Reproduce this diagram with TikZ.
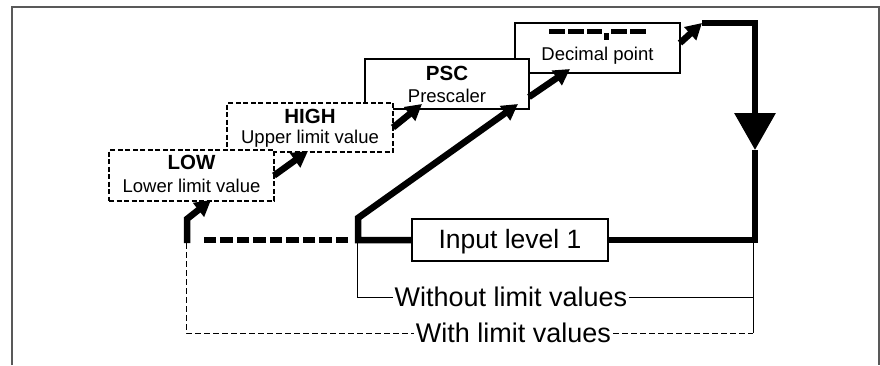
\documentclass[tikz,border=0pt]{standalone}
\usepackage{fontspec}
\setmainfont{Liberation Sans}
\usetikzlibrary{arrows.meta}
\begin{document}
\begin{tikzpicture}[x=1pt,y=-1pt,
  box/.style={draw, line width=1.1pt, fill=white, inner sep=0pt, outer sep=0pt},
  dbox/.style={box, dash pattern=on 5pt off 2.5pt},
  flow/.style={line width=6.5pt, line join=miter},
  flowarr/.style={flow, -{Triangle[length=16pt,width=17pt]}},
  ttl/.style={font=\fontsize{20.5}{22}\selectfont\bfseries, anchor=base, inner sep=0pt},
  lbl/.style={font=\fontsize{18.5}{20}\selectfont, anchor=base, inner sep=0pt},
  big/.style={font=\fontsize{27}{30}\selectfont, inner sep=2pt},
  thinline/.style={line width=1pt},
  thindash/.style={line width=1pt, dash pattern=on 6pt off 3pt},
]
\useasboundingbox (0,0) rectangle (880,365);
% frame
\draw[line width=2pt, color=black!65] (12,365) -- (12,7) -- (879,7) -- (879,365);

% boxes (back to front)
\node[box, minimum width=165pt, minimum height=50pt] (dec) at (597.5,48) {};
\node[box, minimum width=164pt, minimum height=50pt] (psc) at (447,84) {};
\node[dbox, minimum width=166pt, minimum height=49pt] (high) at (310,127.5) {};
\node[dbox, minimum width=165pt, minimum height=51pt] (low) at (191.5,175.5) {};
\node[box, minimum width=196pt, minimum height=42pt] (inp) at (510,240) {};

% texts
\fill (549,29) rectangle (565,33.5);
\fill (568,29) rectangle (584,33.5);
\fill (587,29) rectangle (602,33.5);
\fill (603.5,33) rectangle (609,40);
\fill (611,29) rectangle (627,33.5);
\fill (630,29) rectangle (646,33.5);
\node[lbl] (dect) at (597.5,60) {Decimal point};
\node[ttl] (psct) at (447,80) {PSC};
\node[lbl] (pscl) at (447,102) {Prescaler};
\node[ttl] (hight) at (310,123) {HIGH};
\node[lbl] (highl) at (310,143) {Upper limit value};
\node[ttl] (lowt) at (191.5,169) {LOW};
\node[lbl] (lowl) at (191.5,192) {Lower limit value};
\node[anchor=base, inner sep=0pt, font=\fontsize{26.5}{28}\selectfont] (inpt) at (510,248) {Input level 1};

% coordinates
\coordinate (tl) at (702,23);
\coordinate (tr) at (755,23);
\coordinate (mid) at (755,150);
\coordinate (br) at (755,240);
\coordinate (bl) at (358,240);
\coordinate (blu) at (358,218);
\coordinate (pscin) at (518,104);
\coordinate (dstart) at (348,240);
\coordinate (dend) at (200,240);
\coordinate (lowb) at (187,243);
\coordinate (lowk) at (187,219);
\coordinate (lowin) at (211,200);
\coordinate (highin) at (308,151);
\coordinate (pscin2) at (422,104);
\coordinate (pscout) at (529,97);
\coordinate (decin) at (570,69);
\coordinate (decout) at (680,43);

% thick flow
\draw[flowarr] (decout) -- (tl);
\draw[flow, -{Triangle[length=37pt,width=40pt]}] (tl) -- (tr) -- (mid);
\draw[flow] (mid) -- (br) -- (inp.east);
\draw[flowarr] (inp.west) -- (bl) -- (blu) -- (pscin);
\draw[flow, dash pattern=on 12.5pt off 4pt] (dstart) -- (dend);
\draw[flowarr] (lowb) -- (lowk) -- (lowin);
\draw[flowarr] (low.east) -- (highin);
\draw[flowarr] (high.east) -- (pscin2);
\draw[flowarr] (pscout) -- (decin);

% range lines
\node[big] (wo) at (511,297) {Without limit values};
\node[big] (wi) at (513.5,333) {With limit values};
\coordinate (wol) at (357,241);
\coordinate (wor) at (753,297);
\coordinate (rtop) at (753,243);
\coordinate (rbot) at (753,333);
\coordinate (wil) at (186,243);
\draw[thinline] (wol) |- (wo.west);
\draw[thinline] (wo.east) -- (wor);
\draw[thinline] (rtop) -- (rbot);
\draw[thindash] (wil) |- (wi.west);
\draw[thindash] (wi.east) -- (rbot);
\end{tikzpicture}
\end{document}
